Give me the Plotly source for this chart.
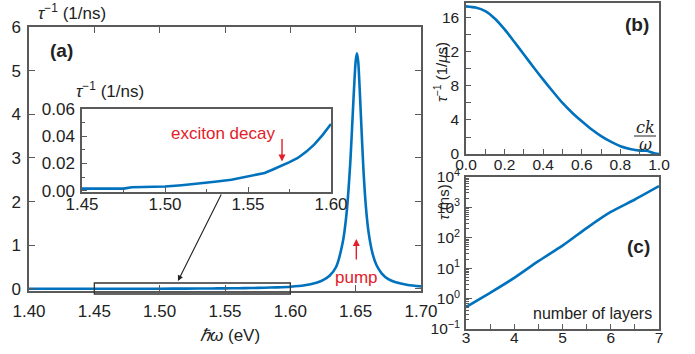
import plotly.graph_objects as go

W, H = 695, 354
BLUE = "#0072BD"
RED = "#E3202A"
AX = "#5a5a5a"
FONT = "Arial, Liberation Sans, sans-serif"

# ---- panel (a): decay rate vs photon energy ----
a_energy = [1.40, 1.45, 1.475, 1.50, 1.52, 1.54, 1.55, 1.56, 1.57, 1.58, 1.59, 1.60,
            1.61, 1.62, 1.625, 1.63, 1.635, 1.64, 1.643, 1.646, 1.648, 1.650, 1.651,
            1.652, 1.654, 1.656, 1.658, 1.660, 1.663, 1.666, 1.670, 1.675, 1.680, 1.690, 1.700]
a_rate = [0.001, 0.0015, 0.0015, 0.003, 0.005, 0.008, 0.0105, 0.013, 0.018, 0.024, 0.034, 0.049,
          0.075, 0.14, 0.20, 0.30, 0.50, 1.05, 1.72, 2.95, 4.15, 5.22, 5.40,
          5.19, 3.97, 2.70, 1.82, 1.27, 0.80, 0.54, 0.35, 0.22, 0.156, 0.087, 0.055]

# ---- inset: zoom on 1.45-1.60 ----
in_energy = [1.45, 1.475, 1.48, 1.50, 1.51, 1.52, 1.53, 1.54, 1.55, 1.56, 1.565, 1.57,
             1.575, 1.58, 1.585, 1.59, 1.595, 1.60]
in_rate = [0.0015, 0.0015, 0.0025, 0.003, 0.004, 0.005, 0.0065, 0.008, 0.0105, 0.013, 0.0155,
           0.018, 0.021, 0.024, 0.0285, 0.034, 0.041, 0.049]

# ---- panel (b): rate vs ck/omega ----
b_ck = [0.0, 0.05, 0.1, 0.15, 0.2, 0.25, 0.3, 0.35, 0.4, 0.45, 0.5, 0.55, 0.6, 0.65,
        0.7, 0.75, 0.8, 0.85, 0.9, 0.935, 0.97, 1.0]
b_rate = [17.37, 17.22, 16.8, 15.9, 14.65, 13.2, 11.7, 10.2, 8.75, 7.35, 6.0, 4.85, 3.84, 2.9,
          2.1, 1.45, 0.92, 0.6, 0.4, 0.38, 0.12, 0.0]

# ---- panel (c): lifetime vs number of layers ----
c_layers = [3, 3.5, 4, 4.5, 5, 5.5, 6, 6.5, 7]
c_tau = [0.525, 1.55, 4.8, 17, 55, 209, 708, 1820, 5010]

a_ticks = [1.40, 1.45, 1.50, 1.55, 1.60, 1.65, 1.70]
in_ticks = [1.45, 1.50, 1.55, 1.60]
c_yticks = [0.1, 1, 10, 100, 1000, 10000]
c_yticktext = ["10<sup>−1</sup>", "10<sup>0</sup>", "10<sup>1</sup>", "10<sup>2</sup>",
               "10<sup>3</sup>", "10<sup>4</sup>"]


def px(x):
    return x / W


def py(y):
    return 1 - y / H


fig = go.Figure()
fig.add_trace(go.Scatter(x=a_energy, y=a_rate, mode="lines", line=dict(color=BLUE, width=2.6, shape="spline", smoothing=0.6), xaxis="x", yaxis="y"))
fig.add_trace(go.Scatter(x=in_energy, y=in_rate, mode="lines", line=dict(color=BLUE, width=2.6), xaxis="x2", yaxis="y2"))
fig.add_trace(go.Scatter(x=b_ck, y=b_rate, mode="lines", line=dict(color=BLUE, width=2.6, shape="spline", smoothing=0.6), xaxis="x3", yaxis="y3"))
fig.add_trace(go.Scatter(x=c_layers, y=c_tau, mode="lines", line=dict(color=BLUE, width=2.6, shape="spline", smoothing=0.6), xaxis="x4", yaxis="y4"))

tf = dict(family=FONT, size=17, color="#222")
tfs = dict(family=FONT, size=15.5, color="#222")
common = dict(showline=True, linecolor=AX, linewidth=1.5, ticks="inside", tickcolor=AX,
              tickwidth=1.2, showgrid=False, zeroline=False, tickfont=tf, automargin=False)

fig.update_layout(
    template="none",
    width=W, height=H, margin=dict(l=0, r=0, t=0, b=0, pad=0),
    paper_bgcolor="white", plot_bgcolor="rgba(0,0,0,0)", showlegend=False,
    font=dict(family=FONT, size=17, color="#222"),
    xaxis=dict(common, domain=[px(29), px(421)], range=[1.40, 1.70], tickvals=a_ticks,
               tickformat=".2f", ticklen=6, mirror="allticks", anchor="y", ticklabelstandoff=4),
    yaxis=dict(common, domain=[py(291), py(27)], range=[-0.05, 6], dtick=1, ticklen=6,
               mirror="allticks", anchor="x", ticklabelstandoff=3),
    xaxis2=dict(common, domain=[px(82), px(331)], range=[1.45, 1.60], tickvals=in_ticks,
                tickformat=".2f", ticklen=5, mirror=True, anchor="y2", ticklabelstandoff=-4,
                minor=dict(ticks="inside", dtick=0.025, ticklen=3, tickcolor=AX)),
    yaxis2=dict(common, domain=[py(192), py(109)], range=[-0.001, 0.06], dtick=0.02,
                tickformat=".2f", ticklen=5, mirror=True, anchor="x2", ticklabelstandoff=2,
                minor=dict(ticks="inside", dtick=0.01, ticklen=3, tickcolor=AX)),
    xaxis3=dict(common, domain=[px(466), px(659)], range=[0, 1.0], dtick=0.2, tickfont=tfs,
                tickformat=".1f", ticklen=5, mirror=True, anchor="y3", ticklabelstandoff=-4,
                minor=dict(ticks="inside", dtick=0.1, ticklen=5, tickcolor=AX)),
    yaxis3=dict(common, domain=[py(154), py(3)], range=[0, 17.76], dtick=4, ticklen=5,
                tickfont=tfs, mirror=True, anchor="x3", ticklabelstandoff=2,
                minor=dict(ticks="inside", dtick=2, ticklen=5, tickcolor=AX)),
    xaxis4=dict(common, domain=[px(466), px(659)], range=[3, 7], dtick=1, ticklen=5,
                tickfont=tfs, mirror=True, anchor="y4", ticklabelstandoff=-6,
                minor=dict(ticks="inside", dtick=0.5, ticklen=5, tickcolor=AX)),
    yaxis4=dict(common, domain=[py(329), py(177)], type="log", range=[-1, 4],
                tickvals=c_yticks, ticktext=c_yticktext, ticklen=6, mirror=True,
                tickfont=tfs, anchor="x4", ticklabelstandoff=1,
                minor=dict(ticks="inside", ticklen=3, tickcolor=AX, tickmode="array",
                           tickvals=[m * 10 ** e for e in range(-1, 4) for m in range(2, 10)])),
)

# zoom rectangle in panel (a)
fig.add_shape(type="rect", xref="x", yref="paper", x0=1.45, x1=1.60, y0=py(294), y1=py(283),
              line=dict(color="#333", width=1.3), fillcolor="rgba(0,0,0,0)")

ann = []
ann.append(dict(xref="paper", yref="paper", x=px(72), y=py(12), xanchor="center", yanchor="middle",
                text="<i>τ</i><sup>−1</sup> (1/ns)", showarrow=False, font=dict(size=17)))
ann.append(dict(xref="paper", yref="paper", x=px(110), y=py(90), xanchor="center", yanchor="middle",
                text="<i>τ</i><sup>−1</sup> (1/ns)", showarrow=False, font=dict(size=17)))
ann.append(dict(xref="paper", yref="paper", x=px(48), y=py(50), xanchor="left", yanchor="middle",
                text="<b>(a)</b>", showarrow=False, font=dict(size=19)))
ann.append(dict(xref="paper", yref="paper", x=px(230), y=py(335), xanchor="center", yanchor="middle",
                text="<i>ℏω</i> (eV)", showarrow=False, font=dict(size=17)))
# exciton decay
ann.append(dict(xref="paper", yref="paper", x=px(223), y=py(133), xanchor="center", yanchor="middle",
                text="exciton decay", showarrow=False, font=dict(size=17, color=RED)))
ann.append(dict(xref="x2", yref="y2", x=1.5705, y=0.0215, ax=0, ay=-24, text="", showarrow=True,
                arrowcolor=RED, arrowhead=2, arrowsize=1, arrowwidth=1.4))
# pump
ann.append(dict(xref="x", yref="paper", x=1.651, y=py(277), xanchor="center", yanchor="middle",
                text="pump", showarrow=False, font=dict(size=17, color=RED)))
ann.append(dict(xref="x", yref="paper", x=1.6505, y=py(239), ax=0, ay=22, text="", showarrow=True,
                arrowcolor=RED, arrowhead=2, arrowsize=1, arrowwidth=1.4))
# zoom arrow
ann.append(dict(xref="x", yref="paper", x=1.514, y=py(281), ax=44, ay=-88, text="", showarrow=True,
                arrowcolor="#222", arrowhead=2, arrowsize=1, arrowwidth=1.1))
# panel (b)
ann.append(dict(xref="paper", yref="paper", x=px(637), y=py(24), xanchor="center", yanchor="middle",
                text="<b>(b)</b>", showarrow=False, font=dict(size=19)))
ann.append(dict(xref="paper", yref="paper", x=px(440), y=py(72), xanchor="center", yanchor="middle",
                text="<i>τ</i><sup>−1</sup> (1/<i>μ</i>s)", textangle=-90, showarrow=False,
                font=dict(size=15)))
ann.append(dict(xref="paper", yref="paper", x=px(645), y=py(127), xanchor="center", yanchor="middle",
                text="<i>ck</i>", showarrow=False, font=dict(family="DejaVu Serif, serif", size=16)))
ann.append(dict(xref="paper", yref="paper", x=px(645), y=py(144), xanchor="center", yanchor="middle",
                text="<i>ω</i>", showarrow=False, font=dict(family="DejaVu Serif, serif", size=16)))
fig.add_shape(type="line", xref="paper", yref="paper", x0=px(634), x1=px(656), y0=py(136), y1=py(136),
              line=dict(color="#222", width=1))
# panel (c)
ann.append(dict(xref="paper", yref="paper", x=px(638), y=py(247), xanchor="center", yanchor="middle",
                text="<b>(c)</b>", showarrow=False, font=dict(size=19)))
ann.append(dict(xref="paper", yref="paper", x=px(443), y=py(202), xanchor="center", yanchor="middle",
                text="<i>τ</i> (ns)", textangle=-90, showarrow=False, font=dict(size=15)))
ann.append(dict(xref="paper", yref="paper", x=px(654), y=py(313), xanchor="right", yanchor="middle",
                text="number of layers", showarrow=False, font=dict(size=16)))

fig.update_layout(annotations=ann)
fig.write_html("out.html", config={"displayModeBar": False},
               post_script="document.body.style.margin='0px';document.body.style.overflow='hidden';")
